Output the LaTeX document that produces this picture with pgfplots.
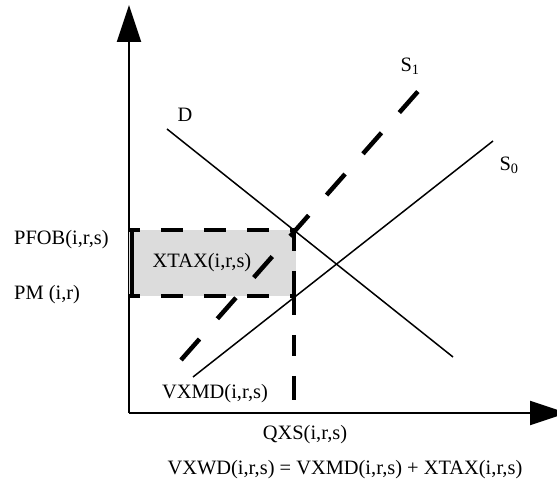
\documentclass[border=0pt]{standalone}
\usepackage{pgfplots}
\pgfplotsset{compat=1.18}
\usetikzlibrary{arrows.meta}
\usepackage{fontspec}
\setmainfont{Liberation Serif}
\definecolor{taxgrey}{HTML}{DCDCDC}
\tikzset{lbl/.style={font=\fontsize{20.5}{22}\selectfont, inner sep=0pt}}

\begin{document}
\begin{tikzpicture}
\begin{axis}[
    scale only axis,
    width=438bp, height=408bp,
    xmin=0, xmax=438, ymin=0, ymax=408,
    axis x line=bottom, axis y line=left,
    axis line style={line width=2bp, -{Triangle[length=37bp,width=24bp]}},
    ticks=none,
    clip=false,
]
% tax wedge rectangle
\addplot[fill=taxgrey, draw=none] coordinates {(0,117) (167,117) (167,183) (0,183)} -- cycle;
\addplot[black, line width=4.5bp, dash pattern=on 22bp off 21bp, dash phase=11bp] coordinates {(0,183) (167,183)};
\addplot[black, line width=4.5bp, dash pattern=on 22bp off 21bp, dash phase=11bp] coordinates {(0,117) (167,117)};
\addplot[black, line width=4bp] coordinates {(3,117) (3,183)};
\addplot[black, line width=4.5bp, dash pattern=on 23bp off 20bp on 44bp off 20bp on 21bp off 20bp on 24bp off 50bp] coordinates {(165,185) (165,11)};

% demand
\addplot[black, line width=1.5bp] coordinates {(38,284) (324,56)};
% supply without tax
\addplot[black, line width=1.5bp] coordinates {(64,36) (364,272)};
% supply with export tax
\addplot[black, line width=4.5bp, dash pattern=on 28bp off 27bp] coordinates {(52,53) (292,325)};

\node[lbl] at (axis cs:56,298) {D};
\node[lbl] at (axis cs:281,347) {S\textsubscript{1}};
\node[lbl] at (axis cs:380,248) {S\textsubscript{0}};
\node[lbl] at (axis cs:73,150) {XTAX(i,r,s)};
\node[lbl] at (axis cs:86,19) {VXMD(i,r,s)};
\node[lbl, anchor=west] at (axis cs:-115,173) {PFOB(i,r,s)};
\node[lbl, anchor=west] at (axis cs:-115,118) {PM (i,r)};
\node[lbl] at (axis cs:176,-22) {QXS(i,r,s)};
\node[lbl] at (axis cs:216,-57) {VXWD(i,r,s) = VXMD(i,r,s) + XTAX(i,r,s)};

\coordinate (bbA) at (axis cs:-129,-78);
\coordinate (bbB) at (axis cs:428,408);
\end{axis}
\pgfresetboundingbox
\useasboundingbox (bbA) rectangle ([yshift=5bp]bbB);
\end{tikzpicture}
\end{document}
